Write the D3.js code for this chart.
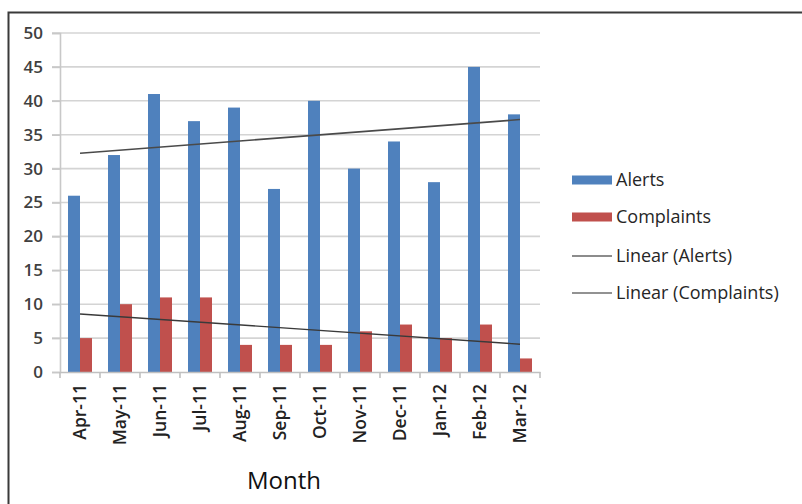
<!DOCTYPE html>
<html>
<head>
<meta charset="utf-8">
<script src="https://cdn.jsdelivr.net/npm/d3@7"></script>
<style>
  html, body { margin: 0; padding: 0; background: #ffffff; }
  svg { display: block; }
  text { font-family: "Open Sans", Lato, "Liberation Sans", sans-serif; }
</style>
</head>
<body>
<svg id="chart" width="802" height="504"></svg>
<script>
// Monthly alerts and complaints, Apr-11 to Mar-12
const months = ["Apr-11","May-11","Jun-11","Jul-11","Aug-11","Sep-11","Oct-11","Nov-11","Dec-11","Jan-12","Feb-12","Mar-12"];
const alerts = [26, 32, 41, 37, 39, 27, 40, 30, 34, 28, 45, 38];
const complaints = [5, 10, 11, 11, 4, 4, 4, 6, 7, 5, 7, 2];
const yTicks = [0, 5, 10, 15, 20, 25, 30, 35, 40, 45, 50];
const seriesNames = ["Alerts", "Complaints"];
const legendLabels = ["Alerts", "Complaints", "Linear (Alerts)", "Linear (Complaints)"];
const axisTitle = "Month";

const colors = { Alerts: "#4f81bd", Complaints: "#c0504d" };
const FONT = "'Open Sans', Lato, sans-serif";

const svg = d3.select("#chart");
const plot = { left: 60, right: 540, top: 33, bottom: 372 };

// outer chart frame (only top and left edges fall inside the view)
svg.append("rect")
  .attr("x", 8.5).attr("y", 12.5)
  .attr("width", 820).attr("height", 520)
  .attr("fill", "none").attr("stroke", "#3a3a3a").attr("stroke-width", 2);

const x = d3.scaleBand().domain(months).range([plot.left, plot.right]).paddingInner(0).paddingOuter(0);
const xSub = d3.scaleBand().domain(seriesNames).range([8, x.bandwidth() - 8]);
const y = d3.scaleLinear().domain([0, 50]).range([plot.bottom, plot.top]);

// horizontal gridlines with short ticks left of the axis
svg.append("g").selectAll("line").data(yTicks.filter(t => t > 0)).join("line")
  .attr("x1", plot.left - 8).attr("x2", plot.right)
  .attr("y1", d => y(d)).attr("y2", d => y(d))
  .attr("stroke", "#d4d4d4").attr("stroke-width", 1.6);

// y axis
const yAxis = d3.axisLeft(y).tickValues(yTicks).tickSize(8).tickPadding(9);
const gy = svg.append("g").attr("transform", `translate(${plot.left},0)`).call(yAxis);
gy.select(".domain").attr("stroke", "#c8c8c8").attr("stroke-width", 1.6);
gy.selectAll(".tick line").attr("stroke", "#c8c8c8").attr("stroke-width", 1.6);
gy.selectAll(".tick text")
  .attr("fill", "#404040").attr("font-size", 17).attr("font-weight", 600)
  .style("font-family", FONT);

// bars
const rows = months.map((m, i) => ({ month: m, Alerts: alerts[i], Complaints: complaints[i] }));
const groups = svg.append("g").selectAll("g").data(rows).join("g")
  .attr("transform", d => `translate(${x(d.month)},0)`);
groups.selectAll("rect").data(d => seriesNames.map(k => ({ key: k, value: d[k] }))).join("rect")
  .attr("x", d => xSub(d.key))
  .attr("width", xSub.bandwidth())
  .attr("y", d => y(d.value))
  .attr("height", d => y(0) - y(d.value))
  .attr("fill", d => colors[d.key]);

// x axis
const xAxis = d3.axisBottom(x).tickSize(0).tickPadding(0);
const gx = svg.append("g").attr("transform", `translate(0,${plot.bottom})`).call(xAxis);
gx.select(".domain").attr("stroke", "#c0c0c0").attr("stroke-width", 1.6);
gx.selectAll(".tick text")
  .attr("transform", "rotate(-90)")
  .attr("x", -12).attr("y", 0).attr("dy", "0.36em")
  .attr("text-anchor", "end")
  .attr("fill", "#222").attr("font-size", 17.5).attr("font-weight", 600)
  .style("font-family", FONT);
// category boundary ticks
svg.append("g").selectAll("line").data(months.concat(["end"])).join("line")
  .attr("x1", (d, i) => plot.left + i * x.bandwidth())
  .attr("x2", (d, i) => plot.left + i * x.bandwidth())
  .attr("y1", plot.bottom).attr("y2", plot.bottom + 6)
  .attr("stroke", "#c0c0c0").attr("stroke-width", 1.6);

// least-squares linear trend across the months
function linearTrend(vals) {
  const n = vals.length;
  const xs = vals.map((_, i) => i + 1);
  const mx = d3.mean(xs), my = d3.mean(vals);
  const sxy = d3.sum(xs, (xi, i) => (xi - mx) * (vals[i] - my));
  const sxx = d3.sum(xs, xi => (xi - mx) ** 2);
  const b = sxy / sxx, a = my - b * mx;
  return [{ i: 0, v: a + b * 1 }, { i: n - 1, v: a + b * n }];
}
const trendLine = d3.line()
  .x(d => x(months[d.i]) + x.bandwidth() / 2)
  .y(d => y(d.v));
svg.append("path").datum(linearTrend(alerts)).attr("d", trendLine)
  .attr("fill", "none").attr("stroke", "#4a4a4a").attr("stroke-width", 1.6);
svg.append("path").datum(linearTrend(complaints)).attr("d", trendLine)
  .attr("fill", "none").attr("stroke", "#3a3a3a").attr("stroke-width", 1.4);

// axis title
svg.append("text").attr("x", 284).attr("y", 489)
  .attr("text-anchor", "middle").attr("font-size", 24).attr("fill", "#111")
  .style("font-family", FONT)
  .text(axisTitle);

// legend
const legend = svg.append("g").attr("transform", "translate(572,0)");
const legendY = [180, 217, 256, 293];
legendLabels.forEach((lab, i) => {
  const g = legend.append("g").attr("transform", `translate(0,${legendY[i]})`);
  if (i < 2) {
    g.append("rect").attr("x", 0).attr("y", -4.5).attr("width", 40).attr("height", 9)
      .attr("fill", colors[seriesNames[i]]);
  } else {
    g.append("line").attr("x1", 0).attr("x2", 40).attr("y1", 0).attr("y2", 0)
      .attr("stroke", i === 2 ? "#8c8c8c" : "#6e6e6e").attr("stroke-width", i === 2 ? 2 : 1.6);
  }
  g.append("text").attr("x", 44).attr("y", 0).attr("dy", "0.35em")
    .attr("font-size", 18).attr("fill", "#262626").attr("font-weight", 500)
    .style("font-family", FONT)
    .text(lab);
});
</script>
</body>
</html>
